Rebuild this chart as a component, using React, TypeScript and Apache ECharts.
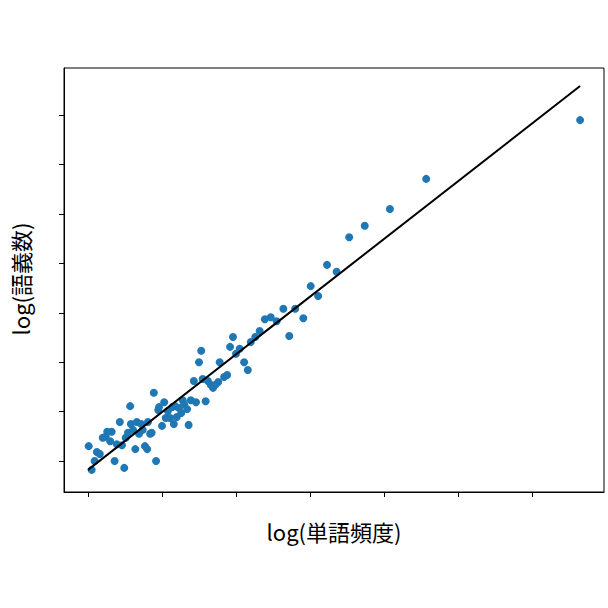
import React, { useEffect, useRef } from "react";
import * as echarts from "echarts";

// log word frequency (x) and log number of senses (y)
const xValues = [
  0.01, 0.05, 0.09, 0.12, 0.16, 0.2, 0.24, 0.26, 0.3, 0.32, 0.36, 0.39, 0.43, 0.46, 0.49, 0.51, 0.54, 0.57, 0.58, 0.61,
  0.64, 0.66, 0.69, 0.72, 0.74, 0.77, 0.8, 0.81, 0.84, 0.86, 0.89, 0.92, 0.95, 0.96, 1.0, 1.03, 1.05, 1.08, 1.11, 1.14,
  1.16, 1.18, 1.2, 1.23, 1.26, 1.28, 1.3, 1.34, 1.36, 1.39, 1.43, 1.46, 1.5, 1.53, 1.55, 1.59, 1.62, 1.66, 1.69, 1.72,
  1.76, 1.78, 1.84, 1.88, 1.92, 1.96, 2.0, 2.05, 2.11, 2.16, 2.2, 2.26, 2.32, 2.39, 2.47, 2.55, 2.64, 2.72, 2.8, 2.91,
  3.01, 3.11, 3.23, 3.36, 3.53, 3.74, 4.08, 4.57, 6.65,
];
const yValues = [
  0.3, -0.18, 0.0, 0.18, 0.14, 0.47, 0.49, 0.59, 0.4, 0.59, 0.0, 0.34, 0.79, 0.32, -0.14, 0.47, 0.57, 1.11, 0.75, 0.63,
  0.24, 0.79, 0.55, 0.75, 0.63, 0.3, 0.24, 0.79, 0.55, 0.57, 1.38, 0.0, 1.03, 1.09, 0.71, 1.19, 0.87, 1.01, 0.87, 1.09,
  0.75, 1.11, 0.89, 1.07, 0.97, 1.23, 1.15, 1.05, 0.73, 1.23, 1.62, 1.19, 2.0, 2.23, 1.66, 1.21, 1.62, 1.54, 1.48, 1.54,
  1.6, 2.0, 1.7, 1.74, 2.31, 2.51, 2.17, 2.27, 2.0, 1.84, 2.41, 2.51, 2.63, 2.87, 2.91, 2.83, 3.08, 2.53, 3.08, 2.89,
  3.54, 3.34, 3.97, 3.83, 4.53, 4.76, 5.1, 5.71, 6.9,
];
// fitted line endpoints
const fitX = [0.0, 6.65];
const fitY = [-0.18, 7.59];
const xTicks = [0, 1, 2, 3, 4, 5, 6];
const yTicks = [0, 1, 2, 3, 4, 5, 6, 7];
const xLabel = "log(単語頻度)";
const yLabel = "log(語義数)";

export default function App() {
  const ref = useRef<HTMLDivElement>(null);
  useEffect(() => {
    if (!ref.current) return;
    const chart = echarts.init(ref.current, undefined, { renderer: "svg" });
    const font = "'Noto Sans CJK JP', 'Noto Sans', sans-serif";
    chart.setOption({
      animation: false,
      backgroundColor: "#ffffff",
      grid: {
        left: 64,
        top: 68,
        right: 4,
        bottom: 116,
        show: true,
        borderColor: "#000000",
        borderWidth: 1,
        backgroundColor: "transparent",
      },
      xAxis: {
        type: "value",
        min: -0.324,
        max: 6.973,
        splitLine: { show: false },
        axisLine: { show: true, onZero: false, lineStyle: { color: "#000", width: 1 } },
        axisTick: { show: true, length: 5, inside: false, customValues: xTicks, lineStyle: { color: "#000", width: 1 } },
        axisLabel: { show: false, customValues: xTicks },
      },
      yAxis: {
        type: "value",
        min: -0.628,
        max: 7.955,
        splitLine: { show: false },
        axisLine: { show: true, onZero: false, lineStyle: { color: "#000", width: 1 } },
        axisTick: { show: true, length: 5, inside: false, customValues: yTicks, lineStyle: { color: "#000", width: 1 } },
        axisLabel: { show: false, customValues: yTicks },
      },
      graphic: [
        {
          type: "text",
          x: 334,
          y: 531,
          style: {
            text: xLabel,
            font: `22px ${font}`,
            fill: "#000",
            textAlign: "center",
            textVerticalAlign: "middle",
          },
        },
        {
          type: "text",
          x: 20,
          y: 279,
          rotation: Math.PI / 2,
          style: {
            text: yLabel,
            font: `22px ${font}`,
            fill: "#000",
            textAlign: "center",
            textVerticalAlign: "middle",
          },
        },
      ],
      series: [
        {
          type: "scatter",
          data: xValues.map((x, i) => [x, yValues[i]]),
          symbol: "circle",
          symbolSize: 8,
          itemStyle: { color: "#1f77b4", opacity: 1 },
          z: 2,
        },
        {
          type: "line",
          data: fitX.map((x, i) => [x, fitY[i]]),
          showSymbol: false,
          symbol: "none",
          lineStyle: { color: "#000000", width: 2 },
          z: 3,
        },
      ],
    });
    return () => chart.dispose();
  }, []);
  return <div ref={ref} style={{ position: "fixed", left: 0, top: 0, width: 608, height: 608 }} />;
}
